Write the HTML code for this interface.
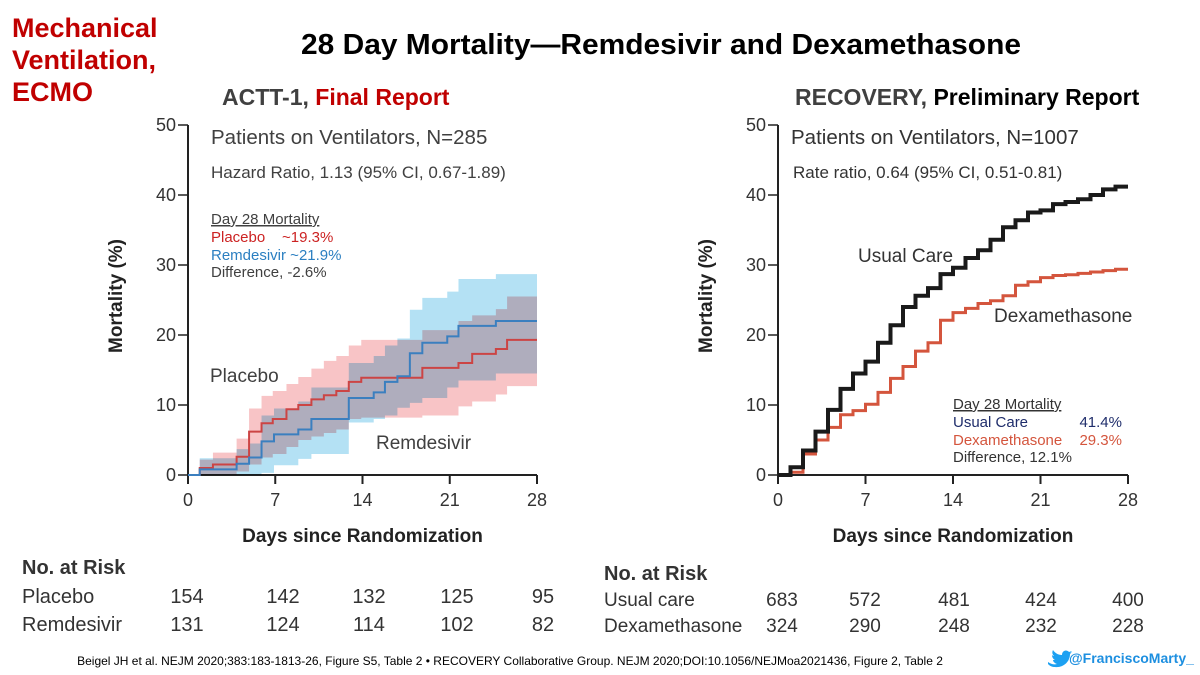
<!DOCTYPE html>
<html><head><meta charset="utf-8"><style>
html,body{margin:0;padding:0;background:#fff;}
svg{display:block;font-family:"Liberation Sans",Arial,sans-serif;}
</style></head><body>
<svg id="s" width="1200" height="675" viewBox="0 0 1200 675" xmlns="http://www.w3.org/2000/svg">
<g fill="#c00000" font-weight="bold" font-size="27">
<text x="12" y="37">Mechanical</text><text x="12" y="69">Ventilation,</text><text x="12" y="101">ECMO</text></g>
<text x="661" y="54" text-anchor="middle" font-size="29" font-weight="bold" fill="#000" textLength="720" lengthAdjust="spacingAndGlyphs">28 Day Mortality—Remdesivir and Dexamethasone</text>
<text x="222" y="105" font-size="23" font-weight="bold" fill="#404040">ACTT-1, <tspan fill="#c00000">Final Report</tspan></text>
<text x="795" y="105" font-size="23" font-weight="bold" fill="#404040">RECOVERY, <tspan fill="#000">Preliminary Report</tspan></text>
<g id="L"></g>
<g id="R"></g>
<g fill="#404040">
<text x="211" y="144" font-size="20.5">Patients on Ventilators, N=285</text>
<text x="211" y="178" font-size="17">Hazard Ratio, 1.13 (95% CI, 0.67-1.89)</text>
<text x="211" y="224" font-size="15" text-decoration="underline">Day 28 Mortality</text>
<text x="211" y="242" font-size="15" fill="#cc2222">Placebo<tspan x="282">~19.3%</tspan></text>
<text x="211" y="260" font-size="15" fill="#2b7fc1">Remdesivir  ~21.9%</text>
<text x="211" y="277" font-size="15">Difference, -2.6%</text>
<text x="210" y="382" font-size="19">Placebo</text>
<text x="376" y="449" font-size="19">Remdesivir</text></g>
<g fill="#333">
<text x="791" y="144" font-size="20.5">Patients on Ventilators, N=1007</text>
<text x="793" y="178" font-size="17">Rate ratio, 0.64 (95% CI, 0.51-0.81)</text>
<text x="858" y="262" font-size="19">Usual Care</text>
<text x="994" y="322" font-size="19">Dexamethasone</text>
<text x="953" y="409" font-size="15" text-decoration="underline">Day 28 Mortality</text>
<text x="953" y="427" font-size="15" fill="#1f2d6b">Usual Care<tspan x="1122" text-anchor="end">41.4%</tspan></text>
<text x="953" y="445" font-size="15" fill="#d4553d">Dexamethasone<tspan x="1122" text-anchor="end">29.3%</tspan></text>
<text x="953" y="462" font-size="15">Difference, 12.1%</text></g>
<g fill="#333" font-size="20">
<text x="22" y="574" font-weight="bold" font-size="20">No. at Risk</text>
<text x="22" y="603">Placebo</text><text x="22" y="631">Remdesivir</text>
<g id="LT" text-anchor="middle"></g></g>
<g fill="#333" font-size="19">
<text x="604" y="580" font-weight="bold" font-size="20">No. at Risk</text>
<text x="604" y="606">Usual care</text><text x="604" y="632">Dexamethasone</text>
<g id="RT" text-anchor="middle"></g></g>
<text x="510" y="665" text-anchor="middle" font-size="12" fill="#000">Beigel JH et al. NEJM 2020;383:183-1813-26, Figure S5, Table 2  •  RECOVERY Collaborative Group. NEJM 2020;DOI:10.1056/NEJMoa2021436, Figure 2, Table 2</text>
<g>
<path transform="translate(0,10)" d="M1048 652c3 2 6 3 9 2-3-1-4-3-4-4h2c-2-1-3-3-3-5 1 1 2 1 2 1-2-2-2-4-1-6 2 3 5 5 9 5 0-4 4-6 7-3l3-1-2 2 2-1-2 2c0 8-7 14-15 13-3 0-5-1-7-3z" fill="#1da1f2"/>
<text x="1069" y="663" font-size="14" font-weight="bold" fill="#1d8fe0">@FranciscoMarty_</text></g>
</svg>
<script>
// ---- data ----
const xTicks=[0,7,14,21,28];
const yTicks=[0,10,20,30,40,50];
const placeboDays=[0,0.94,2.0,3.9,4.9,5.9,6.8,7.9,8.85,9.9,10.9,11.9,12.9,13.9,18.8,21.7,22.8,24.7,25.6];
const placeboVals=[0,1.0,1.5,2.6,6.2,7.4,8.0,9.4,10.0,10.8,11.4,12.0,13.3,13.9,15.3,16.0,17.3,18.0,19.3];
const placeboUpper=[0,2.2,3.2,5.2,9.5,11.3,12.0,13.0,14.0,15.2,16.3,17.0,18.5,19.3,20.7,22.0,22.8,23.7,25.5];
const placeboLower=[0,0,0,0.5,1.5,2.5,3.0,4.0,5.0,5.5,6.0,6.5,8.0,8.2,8.5,9.8,10.5,11.5,12.7];
const remDays=[0,0.94,3.9,4.9,5.9,6.9,8.85,9.9,12.9,14.9,15.8,16.8,17.8,18.8,20.8,21.7,24.7];
const remVals=[0,0.8,1.6,2.5,4.8,5.8,6.5,8.0,11.0,11.8,13.3,14.1,17.4,18.9,19.8,21.3,22.0];
const remUpper=[0,2.4,3.7,4.5,8.5,9.5,10.5,12.5,16.0,17.0,18.5,19.5,23.6,25.3,26.2,28.0,28.7];
const remLower=[0,0,0,0,0.3,1.4,2.3,3.0,7.5,8.0,8.5,9.6,10.3,11.0,12.5,13.5,14.5];
const ucDays=[0,1,2,3,4,5,6,7,8,9,10,11,12,13,14,15,16,17,18,19,20,21,22,23,24,25,26,27];
const ucVals=[0,1.1,3.5,6.2,9.3,12.3,14.5,16.2,18.9,21.4,24.0,25.6,26.7,28.7,29.6,31.0,32.1,33.6,35.4,36.4,37.5,37.8,38.7,39.0,39.4,40.0,40.8,41.2];
const dexVals=[0,0.4,3.0,5.0,6.8,8.6,9.2,10.1,11.8,13.8,15.5,17.7,18.9,22.1,23.2,23.8,24.5,24.9,25.6,27.1,27.6,28.2,28.5,28.6,28.8,29.0,29.2,29.4];
const leftRiskPlacebo=[154,142,132,125,95];
const leftRiskRem=[131,124,114,102,82];
const rightRiskUC=[683,572,481,424,400];
const rightRiskDex=[324,290,248,232,228];
// ---- drawing ----
const NS='http://www.w3.org/2000/svg';
function mk(p,t,a){const e=document.createElementNS(NS,t);for(const k in a)e.setAttribute(k,a[k]);p.appendChild(e);return e;}
function axes(g,x0,x1,yb,yt){
 const sx=d=>x0+(x1-x0)*d/28, sy=v=>yb-(yb-yt)*v/50;
 const ax=mk(g,'path',{d:`M${x0} ${yt}V${yb}H${x1}`,fill:'none',stroke:'#222','stroke-width':2});
 
 
 yTicks.forEach(v=>{const l=mk(g,'line',{x1:x0-10,x2:x0,y1:sy(v),y2:sy(v),stroke:'#222','stroke-width':1.5});
  
  
  const t=mk(g,'text',{x:x0-12,y:sy(v)+6,'text-anchor':'end','font-size':18,fill:'#333'});t.textContent=v;
  
  });
 xTicks.forEach(d=>{const l=mk(g,'line',{x1:sx(d),x2:sx(d),y1:yb,y2:yb+9,stroke:'#222','stroke-width':2});
  
  
  const t=mk(g,'text',{x:sx(d),y:yb+31,'text-anchor':'middle','font-size':18,fill:'#333'});t.textContent=d;
  
  });
 const xt=mk(g,'text',{x:(x0+x1)/2,y:542,'text-anchor':'middle','font-size':19,'font-weight':'bold',fill:'#222'});xt.textContent='Days since Randomization';
 
 
 const yx=x0-66, yy=296;
 const yl=mk(g,'text',{x:yx,y:yy,'text-anchor':'middle','font-size':19,'font-weight':'bold',fill:'#222',transform:`rotate(-90 ${yx} ${yy})`});yl.textContent='Mortality (%)';
 
 
 return [sx,sy];
}
function stepPath(days,vals,sx,sy){let d=`M${sx(days[0])} ${sy(vals[0])}`;for(let i=1;i<days.length;i++)d+=`H${sx(days[i])}V${sy(vals[i])}`;return d+`H${sx(28)}`;}
function band(days,up,lo,sx,sy){let d=`M${sx(days[0])} ${sy(up[0])}`;for(let i=1;i<days.length;i++)d+=`H${sx(days[i])}V${sy(up[i])}`;d+=`H${sx(28)}V${sy(lo[lo.length-1])}`;for(let i=days.length-1;i>=1;i--)d+=`H${sx(days[i])}V${sy(lo[i-1])}`;return d+`H${sx(days[0])}Z`;}
const L=document.getElementById('L');
const [lx,ly]=axes(L,188,537,475,125);
const b1=mk(L,'path',{d:band(placeboDays,placeboUpper,placeboLower,lx,ly),fill:'#f8c4c6',style:'mix-blend-mode:multiply'});


const b2=mk(L,'path',{d:band(remDays,remUpper,remLower,lx,ly),fill:'#b4e1f4',style:'mix-blend-mode:multiply'});


const p1=mk(L,'path',{d:stepPath(placeboDays,placeboVals,lx,ly),fill:'none',stroke:'#cc4444','stroke-width':2});


const p2=mk(L,'path',{d:stepPath(remDays,remVals,lx,ly),fill:'none',stroke:'#3b7fbf','stroke-width':2});


const R=document.getElementById('R');
const [rx,ry]=axes(R,778,1128,475,125);
const p3=mk(R,'path',{d:stepPath(ucDays,dexVals,rx,ry),fill:'none',stroke:'#d4553d','stroke-width':3});


const p4=mk(R,'path',{d:stepPath(ucDays,ucVals,rx,ry),fill:'none',stroke:'#1a1a1a','stroke-width':4});


function table(id,xs,rows,ys){const g=document.getElementById(id);rows.forEach((r,j)=>r.forEach((v,i)=>{const t=mk(g,'text',{x:xs[i],y:ys[j]});t.textContent=v;
 
 }));}
table('LT',[187,283,369,457,543],[leftRiskPlacebo,leftRiskRem],[603,631]);
table('RT',[782,865,954,1041,1128],[rightRiskUC,rightRiskDex],[606,632]);
</script>
</body></html>
